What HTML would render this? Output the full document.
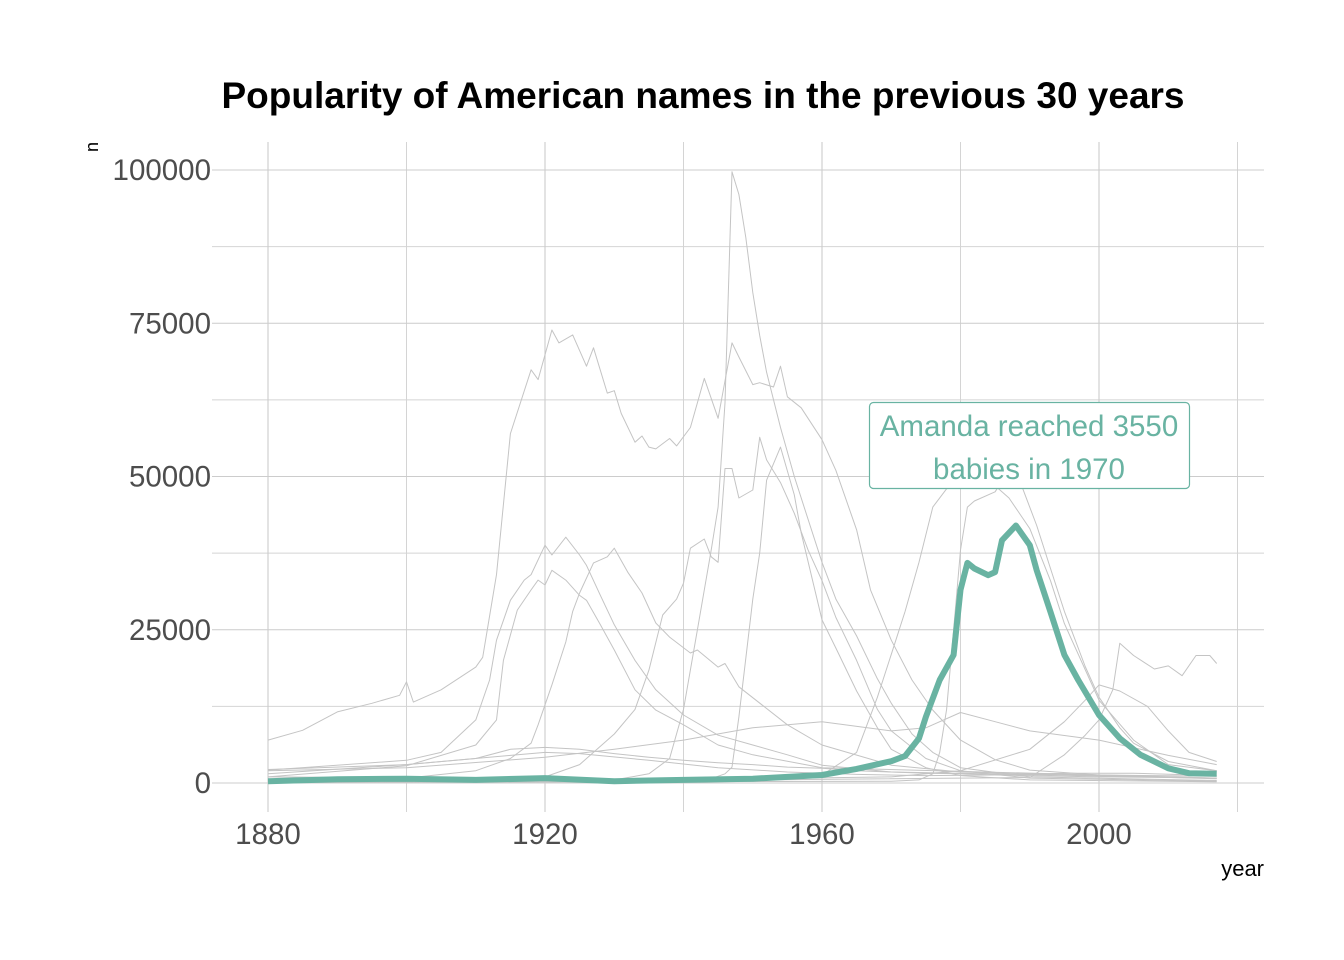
<!DOCTYPE html>
<html><head><meta charset="utf-8"><style>
html,body{margin:0;padding:0;background:#fff;}
svg{display:block;font-family:"Liberation Sans",Arial,sans-serif;}
</style></head><body>
<svg id="chart" width="1344" height="960" viewBox="0 0 1344 960" xmlns="http://www.w3.org/2000/svg">
<rect width="1344" height="960" fill="#fff"/>
<g id="grid"></g>
<g id="lines"></g>
<g id="axes"></g>
<text x="703" y="108" text-anchor="middle" font-size="37" font-weight="bold" fill="#000">Popularity of American names in the previous 30 years</text>
<text transform="translate(98,147) rotate(-90)" text-anchor="middle" font-size="18" fill="#000">n</text>
<text x="1264" y="876" text-anchor="end" font-size="22" fill="#000">year</text>
<g>
<rect x="869.5" y="402.5" width="320" height="86" rx="4" fill="#fff" stroke="#69b3a2" stroke-width="1.2"/>
<text x="1029" y="436" text-anchor="middle" font-size="29.5" fill="#69b3a2">Amanda reached 3550</text>
<text x="1029" y="479" text-anchor="middle" font-size="29.5" fill="#69b3a2">babies in 1970</text>
</g>
</svg>
<script>
const xTicks = [1880, 1920, 1960, 2000];
const xMinor = [1900, 1940, 1980, 2020];
const yTicks = [0, 25000, 50000, 75000, 100000];
const yMinor = [12500, 37500, 62500, 87500];

const yearsMary = [1880,1885,1890,1895,1899,1900,1901,1905,1910,1911,1913,1915,1918,1919,1921,1922,1924,1926,1927,1929,1930,1931,1933,1934,1935,1936,1938,1939,1941,1943,1945,1947,1948,1950,1951,1953,1954,1955,1957,1960,1962,1965,1967,1970,1973,1976,1980,1985,1990,2000,2017];
const valsMary = [7000,8600,11600,13000,14300,16500,13200,15200,18900,20500,34000,57000,67400,65800,73900,71800,73100,68000,71000,63600,64000,60300,55600,56600,54800,54500,56200,55000,58000,66000,59500,71800,69500,65000,65300,64600,68000,63000,61200,56000,51000,41300,31500,23300,16800,11900,7000,3800,2100,1300,1100];

const yearsLinda = [1880,1930,1935,1938,1940,1942,1944,1945,1946,1947,1948,1949,1950,1951,1952,1954,1956,1958,1960,1962,1965,1968,1970,1973,1976,1980,1990,2017];
const valsLinda = [100,500,1500,4000,12000,25000,38000,45000,62000,99700,96000,89000,80000,73000,67000,58000,50000,43000,36000,30000,24000,17000,13000,8000,5000,2500,1000,400];

const yearsHelen = [1880,1900,1905,1910,1912,1913,1915,1917,1918,1920,1921,1923,1925,1926,1928,1930,1933,1936,1940,1945,1950,1955,1960,1970,2017];
const valsHelen = [2100,3700,5000,10300,16800,23300,29800,33100,34000,38800,37200,40100,37200,35500,30600,25800,20000,15200,11100,7800,6200,4600,2900,1800,800];

const yearsDorothy = [1880,1900,1910,1913,1914,1916,1918,1919,1920,1921,1923,1925,1926,1928,1930,1933,1936,1940,1945,1950,1960,2017];
const valsDorothy = [1000,2800,6200,10300,20000,28200,31500,33100,32300,34700,33100,30600,29800,25800,21700,15200,11900,9500,6200,4600,2500,800];

const yearsBetty = [1880,1900,1910,1915,1918,1919,1921,1923,1924,1925,1927,1929,1930,1932,1934,1936,1938,1941,1942,1945,1946,1948,1955,1960,1970,1980,2017];
const valsBetty = [300,800,2000,4000,6500,9500,16000,23000,28000,31000,35900,36900,38300,34300,31000,26100,23800,21200,21700,18900,19500,15700,9500,6200,2900,1800,700];

const yearsPatricia = [1880,1920,1925,1930,1933,1935,1937,1939,1940,1941,1943,1944,1945,1946,1947,1948,1950,1951,1952,1954,1956,1958,1960,1962,1965,1968,1970,1975,1980,1990,2017];
const valsPatricia = [200,1000,3000,8000,12000,18400,27400,30000,32600,38300,39800,36900,36000,51300,51300,46500,47800,56400,52700,49000,44000,38000,33000,27000,20000,12000,8500,4000,2000,800,300];

const yearsBarbara = [1880,1940,1944,1946,1947,1948,1950,1951,1952,1954,1956,1957,1960,1962,1965,1968,1970,1975,1980,1990,2017];
const valsBarbara = [100,300,700,1500,2600,10800,30000,37500,49400,54800,47000,40800,26600,22000,15000,9000,5500,2500,1200,500,200];

const yearsJennifer = [1880,1950,1960,1965,1968,1970,1972,1974,1976,1978,1981,1984,1987,1990,1993,1995,2000,2005,2010,2017];
const valsJennifer = [100,300,1300,5000,14000,21000,28000,36000,45000,48000,49500,49500,46500,41500,33000,26000,13500,7000,3000,2000];

const yearsJessica = [1880,1970,1974,1976,1977,1978,1979,1980,1981,1982,1985,1987,1989,1991,1993,1995,1998,2000,2003,2005,2010,2017];
const valsJessica = [100,300,500,1500,5000,12000,25000,38000,45000,46000,47500,51000,48000,42000,35000,28000,19000,14000,9000,6500,3500,2000];

const yearsEmma = [1880,1950,1990,1995,1998,2000,2002,2003,2005,2008,2010,2012,2014,2016,2017];
const valsEmma = [1000,500,900,4600,7800,10300,15200,22800,20800,18600,19100,17500,20800,20800,19500];

const yearsEmily = [1880,1950,1970,1980,1990,1995,1998,2000,2003,2007,2010,2013,2017];
const valsEmily = [500,700,1000,2000,5500,10000,13500,16000,15000,12500,8500,5000,3500];

const yearsMargaret = [1880,1900,1910,1915,1920,1925,1930,1935,1940,1945,1950,1955,1960,1965,1970,1975,1980,1985,1990,2000,2010,2017];
const valsMargaret = [1500,3000,4000,5500,5800,5500,4800,4200,3700,3300,3000,2600,2400,2000,1800,1600,1500,1300,1200,1000,900,800];

const yearsElizabeth = [1880,1900,1920,1930,1940,1950,1960,1970,1975,1980,1985,1990,2000,2010,2017];
const valsElizabeth = [2000,2500,4200,5500,7000,9000,10000,8500,9000,11500,10000,8500,7000,4500,3000];

const yearsAnna = [1880,1900,1915,1920,1925,1935,1945,1955,1965,1975,1985,1995,2005,2017];
const valsAnna = [2200,3000,4500,5000,4800,3700,2500,1800,1400,1200,1300,1600,1600,1200];

const yearsAmanda = [1880,1890,1900,1910,1920,1930,1940,1950,1960,1965,1967,1970,1972,1974,1975,1977,1979,1980,1981,1982,1984,1985,1986,1988,1990,1991,1993,1995,1997,2000,2003,2006,2010,2013,2017];
const valsAmanda = [300,600,700,500,800,300,500,700,1300,2300,2800,3550,4400,7300,10800,16800,20900,31500,35900,35000,33900,34400,39600,42000,38800,34700,27900,20900,16800,11100,7300,4600,2400,1600,1500];

const graySeries = [
  ['mary', yearsMary, valsMary], ['linda', yearsLinda, valsLinda], ['helen', yearsHelen, valsHelen],
  ['dorothy', yearsDorothy, valsDorothy], ['betty', yearsBetty, valsBetty], ['patricia', yearsPatricia, valsPatricia],
  ['barbara', yearsBarbara, valsBarbara], ['jennifer', yearsJennifer, valsJennifer], ['jessica', yearsJessica, valsJessica],
  ['emma', yearsEmma, valsEmma], ['emily', yearsEmily, valsEmily], ['margaret', yearsMargaret, valsMargaret],
  ['elizabeth', yearsElizabeth, valsElizabeth], ['anna', yearsAnna, valsAnna]
];

const NS = 'http://www.w3.org/2000/svg';
const PX0 = 212, PX1 = 1264, PY0 = 142, PY1 = 812;
function xScale(yr){ return 268 + (yr - 1880) * (1099 - 268) / 120; }
function yScale(v){ return 783 - v * (783 - 170) / 100000; }
function mk(tag, attrs, parent){ const e = document.createElementNS(NS, tag); for (const k in attrs) e.setAttribute(k, attrs[k]); parent.appendChild(e); return e; }

const grid = document.getElementById('grid');
const axes = document.getElementById('axes');
yMinor.forEach(v => {
  const l = mk('line', {x1:PX0, x2:PX1, y1:yScale(v), y2:yScale(v), stroke:'#d4d4d4', 'stroke-width':1}, grid);
  
  
});
xMinor.forEach(v => {
  const l = mk('line', {x1:xScale(v), x2:xScale(v), y1:PY0, y2:PY1, stroke:'#d4d4d4', 'stroke-width':1}, grid);
  
  
});
yTicks.forEach(v => {
  const l = mk('line', {x1:PX0, x2:PX1, y1:yScale(v), y2:yScale(v), stroke:'#cccccc', 'stroke-width':1.1}, grid);
  
  
  const t = mk('text', {x:211, y:yScale(v)+10, 'text-anchor':'end', 'font-size':29.5, fill:'#4d4d4d'}, axes);
  t.textContent = String(v);
  
  
});
xTicks.forEach(v => {
  const l = mk('line', {x1:xScale(v), x2:xScale(v), y1:PY0, y2:PY1, stroke:'#cccccc', 'stroke-width':1.1}, grid);
  
  
  const t = mk('text', {x:xScale(v), y:844, 'text-anchor':'middle', 'font-size':29.5, fill:'#4d4d4d'}, axes);
  t.textContent = String(v);
  
  
});

const lines = document.getElementById('lines');
function pathFor(yrs, vals){ return yrs.map((y,i)=>(i?'L':'M')+xScale(y).toFixed(1)+','+yScale(vals[i]).toFixed(1)).join(' '); }
graySeries.forEach(s => {
  const p = mk('path', {d:pathFor(s[1], s[2]), fill:'none', stroke:'#c4c4c4', 'stroke-width':1, 'stroke-linejoin':'round'}, lines);
  
  
});
const am = mk('path', {d:pathFor(yearsAmanda, valsAmanda), fill:'none', stroke:'#69b3a2', 'stroke-width':6, 'stroke-linejoin':'round'}, lines);


</script>
</body></html>
